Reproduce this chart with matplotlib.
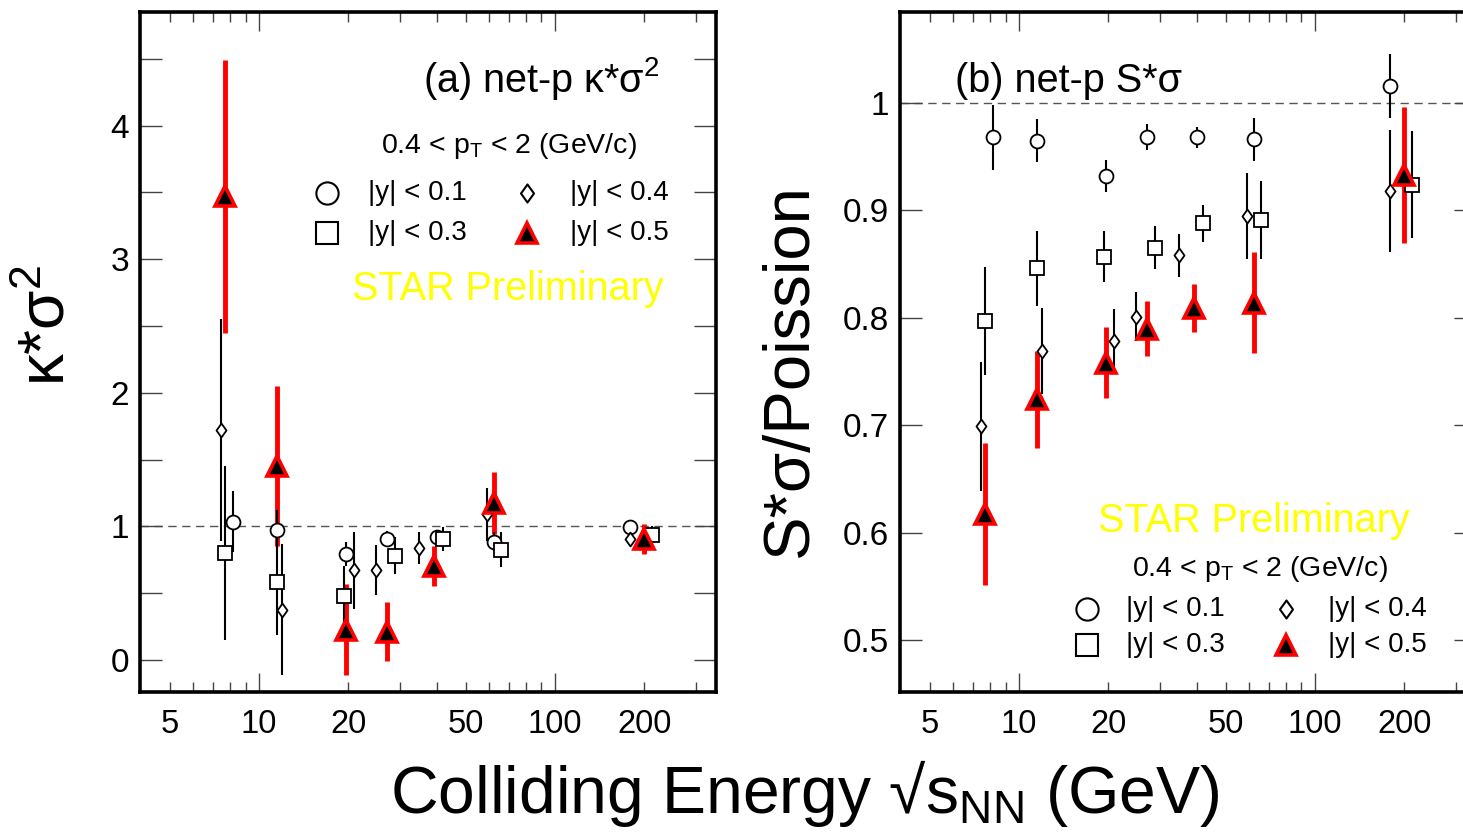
import numpy as np
import matplotlib
matplotlib.use("Agg")
import matplotlib.pyplot as plt
from matplotlib.path import Path
from matplotlib.ticker import FixedLocator, FuncFormatter, NullFormatter

plt.rcParams['font.family'] = ['Liberation Sans', 'DejaVu Sans']
plt.rcParams['mathtext.fontset'] = 'custom'
plt.rcParams['mathtext.rm'] = 'Liberation Sans'
plt.rcParams['mathtext.it'] = 'Liberation Sans:italic'
plt.rcParams['mathtext.bf'] = 'Liberation Sans:bold'

# beam energies (GeV)
energies = np.array([7.7, 11.5, 19.6, 27, 39, 62.4, 200])

# small horizontal dodge for each rapidity window, in decades
dodge_y01 = np.array([0.027, 0.0, 0.003, 0.0, 0.010, 0.0, -0.047])
dodge_y03 = np.array([0.0, 0.0, -0.005, 0.027, 0.030, 0.022, 0.027])
dodge_y04 = np.array([-0.014, 0.017, 0.029, -0.036, -0.050, -0.026, -0.047])
dodge_y05 = np.zeros(7)

# (a) net-proton kappa*sigma^2
ks_y01 = [1.036, 0.974, 0.794, 0.906, 0.920, 0.886, 0.998]
ks_y01_err = [0.23, 0.15, 0.09, 0.06, 0.05, 0.07, 0.04]
ks_y03 = [0.80, 0.587, 0.48, 0.78, 0.906, 0.824, 0.936]
ks_y03_err = [0.65, 0.40, 0.22, 0.14, 0.09, 0.13, 0.07]
ks_y04 = [1.72, 0.375, 0.67, 0.674, 0.84, 1.09, 0.906]
ks_y04_err = [0.83, 0.49, 0.29, 0.19, 0.12, 0.20, 0.05]
ks_y05 = [3.47, 1.45, 0.225, 0.212, 0.70, 1.175, 0.906]
ks_y05_err = [1.02, 0.60, 0.34, 0.22, 0.15, 0.23, 0.11]

# (b) net-proton S*sigma / Poisson
ss_y01 = [0.968, 0.965, 0.932, 0.968, 0.968, 0.966, 1.016]
ss_y01_err = [0.030, 0.020, 0.015, 0.012, 0.010, 0.020, 0.030]
ss_y03 = [0.797, 0.846, 0.857, 0.865, 0.888, 0.891, 0.924]
ss_y03_err = [0.050, 0.035, 0.024, 0.020, 0.017, 0.036, 0.050]
ss_y04 = [0.699, 0.769, 0.778, 0.801, 0.858, 0.895, 0.918]
ss_y04_err = [0.060, 0.040, 0.030, 0.023, 0.020, 0.040, 0.057]
ss_y05 = [0.617, 0.724, 0.758, 0.790, 0.809, 0.814, 0.933]
ss_y05_err = [0.066, 0.045, 0.033, 0.026, 0.022, 0.047, 0.063]

rap_labels = ['|y| < 0.1', '|y| < 0.3', '|y| < 0.4', '|y| < 0.5']

# thin open diamond like the ROOT marker
diamond = Path([(0, 1), (0.72, 0), (0, -1), (-0.72, 0), (0, 1)],
               [Path.MOVETO, Path.LINETO, Path.LINETO, Path.LINETO, Path.CLOSEPOLY])

styles = [
    dict(marker='o', ms=10, mfc='white', mec='black', mew=1.3, ecolor='black', elw=1.5),
    dict(marker='s', ms=10.5, mfc='white', mec='black', mew=1.3, ecolor='black', elw=1.5),
    dict(marker=diamond, ms=10, mfc='white', mec='black', mew=1.3, ecolor='black', elw=1.5),
    dict(marker='^', ms=14, mfc='black', mec='red', mew=2.6, ecolor='red', elw=3.5),
]
legend_ms = [16, 16, 13, 14]
dodges = [dodge_y01, dodge_y03, dodge_y04, dodge_y05]

fig = plt.figure(figsize=(14.63, 8.35), dpi=100)
axa = fig.add_axes([140 / 1463, 1 - 692 / 835, 576 / 1463, 680 / 835])
axb = fig.add_axes([900 / 1463, 1 - 692 / 835, 576 / 1463, 680 / 835])

tick_col = '#444444'
shown = {5, 20, 50, 200}
minor_x = [m * 10 ** d for d in range(0, 3) for m in range(2, 10)]
minor_x = [v for v in minor_x if v >= 5 and v <= 340]


def style_axes(ax, ylim, ymajor, yminor, yfmt):
    ax.set_xscale('log')
    ax.set_xlim(3.96, 350)
    ax.set_ylim(*ylim)
    ax.xaxis.set_major_locator(FixedLocator([10, 100]))
    ax.xaxis.set_major_formatter(FuncFormatter(lambda v, p: '%g' % v))
    ax.xaxis.set_minor_locator(FixedLocator(minor_x))
    ax.xaxis.set_minor_formatter(FuncFormatter(
        lambda v, p: '%g' % v if round(v) in shown else ''))
    ax.yaxis.set_major_locator(FixedLocator(ymajor))
    ax.yaxis.set_major_formatter(FuncFormatter(lambda v, p: yfmt % v))
    ax.yaxis.set_minor_locator(FixedLocator(yminor))
    ax.yaxis.set_minor_formatter(NullFormatter())
    ax.tick_params(axis='x', which='both', direction='in', top=True,
                   labelsize=23.5, pad=12, colors=tick_col, labelcolor='black', width=1)
    ax.tick_params(axis='x', which='major', length=14)
    ax.tick_params(axis='x', which='minor', length=7)
    ax.tick_params(axis='y', which='both', direction='in', right=True, length=16,
                   labelsize=24, pad=8, colors=tick_col, labelcolor='black', width=1)
    for sp in ax.spines.values():
        sp.set_linewidth(2.6)
        sp.set_color('black')
    ax.axhline(1.0, color='#555555', lw=1.0, ls=(0, (6, 4)), zorder=1)


def draw_series(ax, series):
    for (vals, errs), st, dg in zip(series, styles, dodges):
        x = energies * 10 ** dg
        ax.errorbar(x, vals, yerr=errs, fmt='none', ecolor=st['ecolor'],
                    elinewidth=st['elw'], capsize=0, zorder=2 if st['ecolor'] == 'red' else 2.5)
    for (vals, errs), st, dg in zip(series, styles, dodges):
        x = energies * 10 ** dg
        ax.plot(x, vals, ls='none', marker=st['marker'], ms=st['ms'], mfc=st['mfc'],
                mec=st['mec'], mew=st['mew'], zorder=4 if st['ecolor'] == 'red' else 3)


def draw_key(ax, xm, xt, rows_y):
    pos = [(xm[0], rows_y[0]), (xm[0], rows_y[1]), (xm[1], rows_y[0]), (xm[1], rows_y[1])]
    tpos = [(xt[0], rows_y[0]), (xt[0], rows_y[1]), (xt[1], rows_y[0]), (xt[1], rows_y[1])]
    for st, msz, (px, py), (tx, ty), lab in zip(styles, legend_ms, pos, tpos, rap_labels):
        ax.plot([px], [py], transform=ax.transAxes, ls='none', marker=st['marker'], ms=msz,
                mfc=st['mfc'], mec=st['mec'], mew=st['mew'] if st['ecolor'] == 'red' else 1.5,
                clip_on=False, zorder=5)
        ax.text(tx, ty, lab, transform=ax.transAxes, ha='left', va='center', fontsize=20)


# panel (a)
style_axes(axa, (-0.24, 4.85), [0, 1, 2, 3, 4], [0.5, 1.5, 2.5, 3.5, 4.5], '%g')
draw_series(axa, [(ks_y01, ks_y01_err), (ks_y03, ks_y03_err),
                  (ks_y04, ks_y04_err), (ks_y05, ks_y05_err)])
axa.text(0.903, 0.882, r'(a) net-p κ*$\mathregular{σ^{2}}$', transform=axa.transAxes,
         ha='right', va='baseline', fontsize=28.5)
axa.text(0.641, 0.793, r'0.4 < p$_\mathregular{T}$ < 2 (GeV/c)', transform=axa.transAxes,
         ha='center', va='baseline', fontsize=20.5)
draw_key(axa, (0.325, 0.672), (0.396, 0.747), (0.734, 0.675))
axa.text(0.638, 0.576, 'STAR Preliminary', transform=axa.transAxes, ha='center',
         va='baseline', fontsize=28.5, color='#ffff00')

# panel (b)
style_axes(axb, (0.4516, 1.0847), [0.5, 0.6, 0.7, 0.8, 0.9, 1.0], [], '%g')
draw_series(axb, [(ss_y01, ss_y01_err), (ss_y03, ss_y03_err),
                  (ss_y04, ss_y04_err), (ss_y05, ss_y05_err)])
axb.text(0.0955, 0.882, '(b) net-p S*σ', transform=axb.transAxes,
         ha='left', va='baseline', fontsize=28.5)
axb.text(0.614, 0.236, 'STAR Preliminary', transform=axb.transAxes, ha='center',
         va='baseline', fontsize=28.5, color='#ffff00')
axb.text(0.625, 0.171, r'0.4 < p$_\mathregular{T}$ < 2 (GeV/c)', transform=axb.transAxes,
         ha='center', va='baseline', fontsize=20.5)
draw_key(axb, (0.324, 0.671), (0.392, 0.743), (0.122, 0.069))

# axis titles
fig.text(47.5 / 1463, 1 - 325 / 835, r'κ*$\mathregular{σ^{2}}$', rotation=90,
         ha='center', va='center', fontsize=46)
fig.text(790 / 1463, 1 - 370 / 835, 'S*σ/Poission', rotation=90,
         ha='center', va='center', fontsize=47)
fig.text(805 / 1463, 1 - 813 / 835, r'Colliding Energy √s$_\mathregular{NN}$ (GeV)',
         ha='center', va='baseline', fontsize=47.5)

fig.savefig('out.png', dpi=100)
